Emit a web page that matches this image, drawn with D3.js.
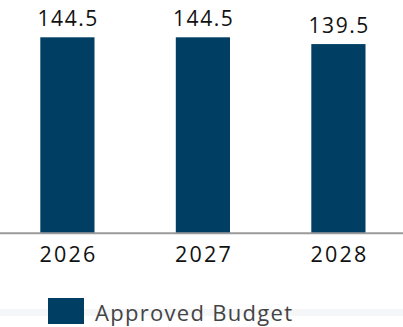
<!DOCTYPE html>
<html>
<head>
<meta charset="utf-8">
<script src="https://cdn.jsdelivr.net/npm/d3@7"></script>
<style>
  html, body { margin: 0; padding: 0; background: #fff; }
  svg { display: block; font-family: "Open Sans", Lato, sans-serif; }
</style>
</head>
<body>
<svg id="chart" width="403" height="327"></svg>
<script>
// Budget by year
const years = ["2026", "2027", "2028"];
const approvedBudget = [144.5, 144.5, 139.5];
const seriesName = "Approved Budget";

const width = 403, height = 327;
const baseY = 233.3;
const barColor = "#003f63";

const svg = d3.select("#chart");

const x = d3.scaleBand()
  .domain(years)
  .range([-0.35, 406.15])
  .paddingInner(0.6)
  .paddingOuter(0.3);

const y = d3.scaleLinear()
  .domain([0, 172])
  .range([baseY, 0]);

// faint band behind the legend
svg.append("rect")
  .attr("x", 0).attr("y", 309)
  .attr("width", width).attr("height", 7)
  .attr("fill", "#f4f6f8");

const rows = years.map((yr, i) => ({ yr, v: approvedBudget[i] }));

// bars
svg.selectAll("rect.bar")
  .data(rows)
  .join("rect")
  .attr("class", "bar")
  .attr("x", d => x(d.yr))
  .attr("width", x.bandwidth())
  .attr("y", d => y(d.v))
  .attr("height", d => baseY - y(d.v))
  .attr("fill", barColor);

// value labels
svg.selectAll("text.val")
  .data(rows)
  .join("text")
  .attr("class", "val")
  .attr("x", d => x(d.yr) + x.bandwidth() / 2 + 0.8)
  .attr("y", d => y(d.v) - 11)
  .attr("text-anchor", "middle")
  .attr("font-size", 21)
  .attr("letter-spacing", 1.6)
  .attr("fill", "#111")
  .text(d => d.v.toFixed(1));

// x axis
const xAxis = d3.axisBottom(x).tickSize(0).tickPadding(13);
const gx = svg.append("g")
  .attr("transform", `translate(0,${baseY})`)
  .call(xAxis);
gx.select(".domain").remove();
gx.append("line")
  .attr("x1", 0).attr("x2", width)
  .attr("y1", 0).attr("y2", 0)
  .attr("stroke", "#9a9a9a")
  .attr("stroke-width", 2);
gx.selectAll(".tick text")
  .attr("font-size", 21.5)
  .attr("letter-spacing", 2.2)
  .attr("dx", 1.1)
  .attr("fill", "#111")
  .attr("font-family", "'Open Sans', Lato, sans-serif");

// legend
const legend = svg.append("g").attr("transform", "translate(48,298)");
legend.append("rect")
  .attr("width", 36).attr("height", 26)
  .attr("fill", barColor);
legend.append("text")
  .attr("x", 47).attr("y", 23)
  .attr("font-size", 22)
  .attr("letter-spacing", 1.3)
  .attr("fill", "#444")
  .text(seriesName);
</script>
</body>
</html>
